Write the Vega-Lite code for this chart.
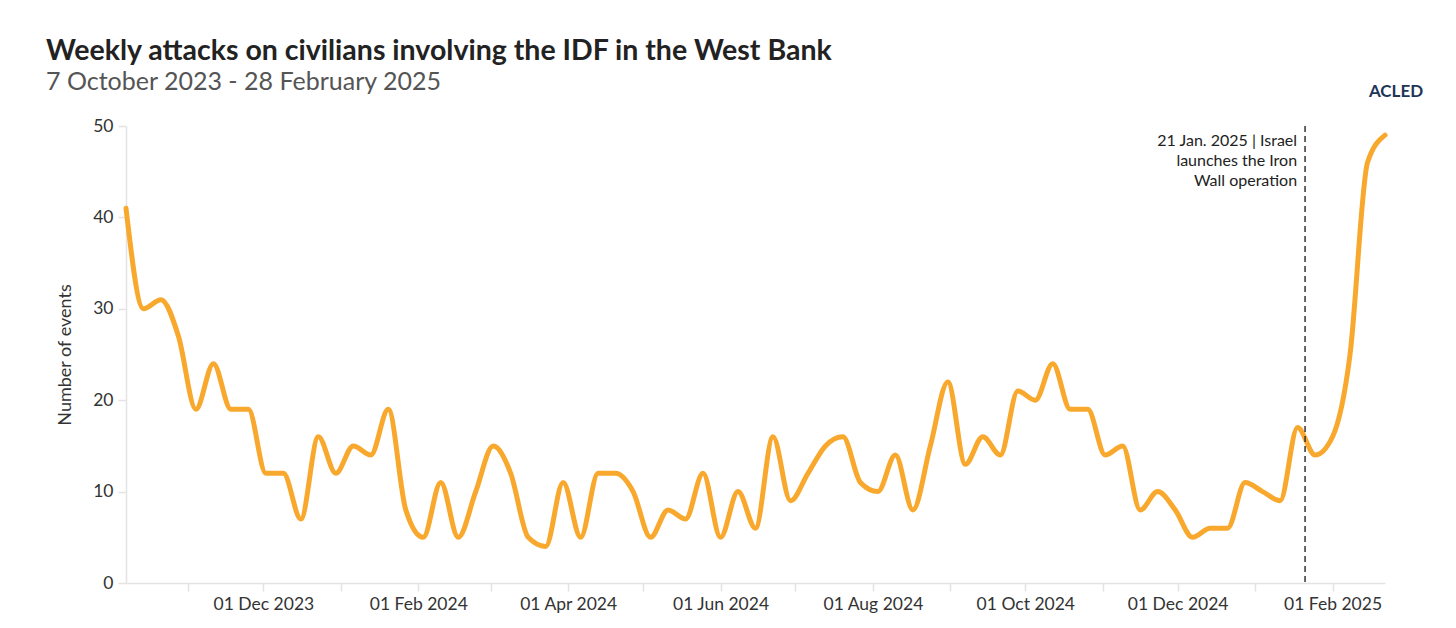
{
  "$schema": "https://vega.github.io/schema/vega-lite/v6.json",
  "width": 1259,
  "height": 457,
  "autosize": {"type": "none"},
  "padding": {"left": 126, "top": 126, "right": 71, "bottom": 45},
  "background": "white",
  "title": {
    "text": "Weekly attacks on civilians involving the IDF in the West Bank",
    "subtitle": "7 October 2023 - 28 February 2025",
    "anchor": "start",
    "frame": "group",
    "dx": -80,
    "offset": -12,
    "font": "Lato",
    "fontSize": 28.5,
    "fontWeight": "bold",
    "color": "#222222",
    "subtitleFont": "Lato",
    "subtitleFontSize": 25,
    "subtitleColor": "#555555",
    "subtitlePadding": 5
  },
  "datasets": {
    "weekly": [
      {"week": "2023-10-07", "events": 41},
      {"week": "2023-10-14", "events": 30},
      {"week": "2023-10-21", "events": 31},
      {"week": "2023-10-28", "events": 27},
      {"week": "2023-11-04", "events": 19},
      {"week": "2023-11-11", "events": 24},
      {"week": "2023-11-18", "events": 19},
      {"week": "2023-11-25", "events": 19},
      {"week": "2023-12-02", "events": 12},
      {"week": "2023-12-09", "events": 12},
      {"week": "2023-12-16", "events": 7},
      {"week": "2023-12-23", "events": 16},
      {"week": "2023-12-30", "events": 12},
      {"week": "2024-01-06", "events": 15},
      {"week": "2024-01-13", "events": 14},
      {"week": "2024-01-20", "events": 19},
      {"week": "2024-01-27", "events": 8},
      {"week": "2024-02-03", "events": 5},
      {"week": "2024-02-10", "events": 11},
      {"week": "2024-02-17", "events": 5},
      {"week": "2024-02-24", "events": 10},
      {"week": "2024-03-02", "events": 15},
      {"week": "2024-03-09", "events": 12},
      {"week": "2024-03-16", "events": 5},
      {"week": "2024-03-23", "events": 4},
      {"week": "2024-03-30", "events": 11},
      {"week": "2024-04-06", "events": 5},
      {"week": "2024-04-13", "events": 12},
      {"week": "2024-04-20", "events": 12},
      {"week": "2024-04-27", "events": 10},
      {"week": "2024-05-04", "events": 5},
      {"week": "2024-05-11", "events": 8},
      {"week": "2024-05-18", "events": 7},
      {"week": "2024-05-25", "events": 12},
      {"week": "2024-06-01", "events": 5},
      {"week": "2024-06-08", "events": 10},
      {"week": "2024-06-15", "events": 6},
      {"week": "2024-06-22", "events": 16},
      {"week": "2024-06-29", "events": 9},
      {"week": "2024-07-06", "events": 12},
      {"week": "2024-07-13", "events": 15},
      {"week": "2024-07-20", "events": 16},
      {"week": "2024-07-27", "events": 11},
      {"week": "2024-08-03", "events": 10},
      {"week": "2024-08-10", "events": 14},
      {"week": "2024-08-17", "events": 8},
      {"week": "2024-08-24", "events": 15},
      {"week": "2024-08-31", "events": 22},
      {"week": "2024-09-07", "events": 13},
      {"week": "2024-09-14", "events": 16},
      {"week": "2024-09-21", "events": 14},
      {"week": "2024-09-28", "events": 21},
      {"week": "2024-10-05", "events": 20},
      {"week": "2024-10-12", "events": 24},
      {"week": "2024-10-19", "events": 19},
      {"week": "2024-10-26", "events": 19},
      {"week": "2024-11-02", "events": 14},
      {"week": "2024-11-09", "events": 15},
      {"week": "2024-11-16", "events": 8},
      {"week": "2024-11-23", "events": 10},
      {"week": "2024-11-30", "events": 8},
      {"week": "2024-12-07", "events": 5},
      {"week": "2024-12-14", "events": 6},
      {"week": "2024-12-21", "events": 6},
      {"week": "2024-12-28", "events": 11},
      {"week": "2025-01-04", "events": 10},
      {"week": "2025-01-11", "events": 9},
      {"week": "2025-01-18", "events": 17},
      {"week": "2025-01-25", "events": 14},
      {"week": "2025-02-01", "events": 16},
      {"week": "2025-02-08", "events": 25},
      {"week": "2025-02-15", "events": 46},
      {"week": "2025-02-22", "events": 49}
    ],
    "notes": [
      {"week": "2025-01-21", "events": 50, "label": "21 Jan. 2025 | Israel\nlaunches the Iron\nWall operation"}
    ],
    "brand": [
      {"week": "2025-02-22", "events": 50, "label": "ACLED"}
    ]
  },
  "layer": [
    {
      "data": {"name": "weekly"},
      "mark": {"type": "line", "interpolate": "monotone", "color": "#F9A82E", "strokeWidth": 5, "strokeCap": "round"},
      "encoding": {
        "x": {
          "field": "week",
          "type": "temporal",
          "title": null,
          "scale": {"type": "utc", "nice": false, "domain": ["2023-10-07", "2025-02-22"]},
          "axis": {
            "tickCount": {"interval": "month", "step": 1},
            "labelExpr": "utcmonth(datum.value) % 2 == 1 ? utcFormat(datum.value, '%d %b %Y') : ''",
            "grid": false,
            "domainColor": "#e3e3e3",
            "domainWidth": 1.5,
            "tickColor": "#e3e3e3",
            "tickWidth": 1.5,
            "tickSize": 8,
            "labelFont": "Lato",
            "labelFontSize": 17.5,
            "labelColor": "#333333",
            "labelPadding": 4,
            "labelFlush": false,
            "labelOverlap": false
          }
        },
        "y": {
          "field": "events",
          "type": "quantitative",
          "title": "Number of events",
          "scale": {"domain": [0, 50], "nice": false},
          "axis": {
            "values": [0, 10, 20, 30, 40, 50],
            "grid": false,
            "domainColor": "#e3e3e3",
            "domainWidth": 1.5,
            "tickColor": "#e3e3e3",
            "tickWidth": 1.5,
            "tickSize": 8,
            "labelFont": "Lato",
            "labelFontSize": 17.5,
            "labelColor": "#333333",
            "labelPadding": 5,
            "titleFont": "Lato",
            "titleFontSize": 18,
            "titleFontWeight": "normal",
            "titleColor": "#333333",
            "titlePadding": 18
          }
        }
      }
    },
    {
      "data": {"name": "notes"},
      "mark": {"type": "rule", "color": "#333333", "strokeWidth": 1.5, "strokeDash": [6, 4]},
      "encoding": {
        "x": {"field": "week", "type": "temporal"}
      }
    },
    {
      "data": {"name": "notes"},
      "mark": {"type": "text", "align": "right", "baseline": "top", "dx": -8, "dy": 7, "font": "Lato", "fontSize": 16, "lineHeight": 20, "lineBreak": "\n", "color": "#222222"},
      "encoding": {
        "x": {"field": "week", "type": "temporal"},
        "y": {"field": "events", "type": "quantitative"},
        "text": {"field": "label"}
      }
    },
    {
      "data": {"name": "brand"},
      "mark": {"type": "text", "align": "center", "baseline": "alphabetic", "dx": 11, "dy": -29, "font": "Lato", "fontSize": 17, "fontWeight": "bold", "color": "#1D3557", "clip": false},
      "encoding": {
        "x": {"field": "week", "type": "temporal"},
        "y": {"field": "events", "type": "quantitative"},
        "text": {"field": "label"}
      }
    }
  ],
  "config": {
    "view": {"stroke": null}
  }
}
